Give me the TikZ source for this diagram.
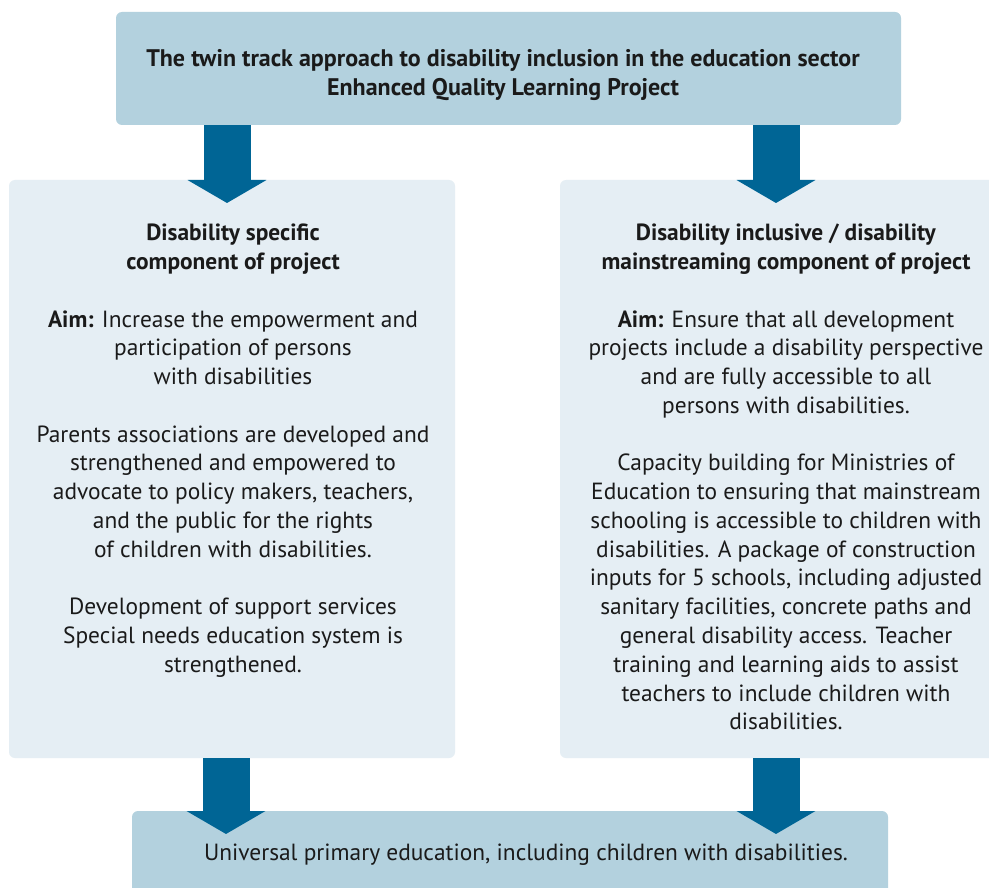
\documentclass[tikz,border=0pt]{standalone}
\usepackage{fontspec}
\setmainfont{PT Sans}
\usetikzlibrary{arrows.meta,calc}
\definecolor{headblue}{RGB}{179,209,222}
\definecolor{paleblue}{RGB}{229,238,244}
\definecolor{arrowblue}{RGB}{0,101,149}
\definecolor{inkgray}{RGB}{26,26,26}
\begin{document}
\begin{tikzpicture}[x=1pt,y=-1pt,
  panel/.style={fill=#1,draw=none,rounded corners=6pt},
  txt/.style={anchor=north,inner sep=0pt,align=center,text=inkgray,
    font=\fontsize{23.4}{28.76}\selectfont},
  flow/.style={draw=arrowblue,line width=47pt,
    -{Triangle[width=78pt,length=23pt,fill=arrowblue]}}]
\clip (0,0) rectangle (989,888);
\fill[white] (0,0) rectangle (989,888);

% boxes
\path[panel=headblue] (116,12) rectangle (901,125);
\path[panel=paleblue] (9,180) rectangle (455,758);
\path[panel=paleblue] (560,180) rectangle (1015,758);
\path[panel=headblue] (132,811) rectangle (888,905);

% named anchors for the connectors
\coordinate (top-l) at (227,125);
\coordinate (top-r) at (776,125);
\coordinate (left-in) at (227,203);
\coordinate (right-in) at (776,203);
\coordinate (left-out) at (226,758);
\coordinate (right-out) at (776,758);
\coordinate (bot-l) at (226,834);
\coordinate (bot-r) at (776,834);

% texts
\node[txt,font=\bfseries\fontsize{24}{29}\selectfont] (title) at (503,49)
  {The twin track approach to disability inclusion in the education sector\\
   Enhanced Quality Learning Project};

\node[txt] (lefttext) at (233,224) {%
  \textbf{Disability specific}\\
  \textbf{component of project}\\[28.76pt]
  \textbf{Aim:} Increase the empowerment and\\
  participation of persons\\
  with disabilities\\[28.76pt]
  Parents associations are developed and\\
  strengthened and empowered to\\
  advocate to policy makers, teachers,\\
  and the public for the rights\\
  of children with disabilities.\\[28.76pt]
  Development of support services\\
  Special needs education system is\\
  strengthened.};

\node[txt] (righttext) at (786,224) {%
  \textbf{Disability inclusive / disability}\\
  \textbf{mainstreaming component of project}\\[28.76pt]
  \textbf{Aim:} Ensure that all development\\
  projects include a disability perspective\\
  and are fully accessible to all\\
  persons with disabilities.\\[28.76pt]
  Capacity building for Ministries of\\
  Education to ensuring that mainstream\\
  schooling is accessible to children with\\
  disabilities. A package of construction\\
  inputs for 5 schools, including adjusted\\
  sanitary facilities, concrete paths and\\
  general disability access. Teacher\\
  training and learning aids to assist\\
  teachers to include children with\\
  disabilities.};

\node[txt] (goal) at (526,844)
  {Universal primary education, including children with disabilities.};

% connectors
\draw[flow] (top-l) -- (left-in);
\draw[flow] (top-r) -- (right-in);
\draw[flow] (left-out) -- (bot-l);
\draw[flow] (right-out) -- (bot-r);
\end{tikzpicture}
\end{document}
